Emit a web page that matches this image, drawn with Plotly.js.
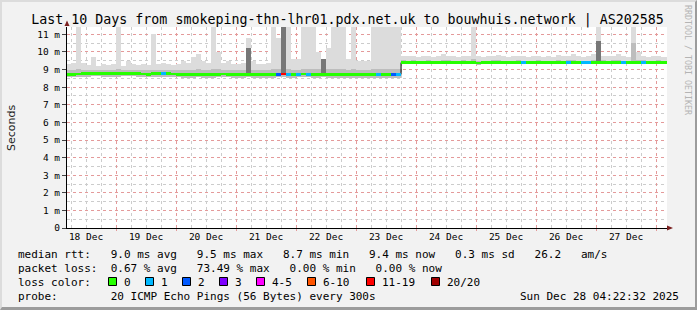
<!DOCTYPE html>
<html><head><meta charset="utf-8">
<script src="https://cdn.plot.ly/plotly-3.0.1.min.js"></script>
<style>
html,body{margin:0;padding:0;background:#f2f2f2;}
#wrap{width:697px;height:310px;box-sizing:border-box;border-style:solid;border-width:2px 2px 3px 2px;border-color:#dcdcdc #9c9c9c #9c9c9c #dcdcdc;background:#f2f2f2;}
#chart{width:693px;height:305px;}
</style></head><body><div id="wrap"><div id="chart"></div></div>
<script>
// ---------- data ----------
const rangeStart = '2025-12-18 04:22:32';
const rangeEnd   = '2025-12-28 04:22:32';
// 2-hour bins starting 2025-12-18 04:00
const medianRtt = [
 8.72,8.73,8.75,8.78,8.78,8.80,8.79,8.78,8.77,8.76,
 8.78,8.79,8.80,8.79,8.77,8.75,8.74,8.76,8.77,8.78,
 8.76,8.75,8.74,8.73,8.72,8.73,8.74,8.73,8.72,8.73,
 8.74,8.75,8.74,8.72,8.71,8.72,8.74,8.73,8.72,8.71,
 8.72,8.73,8.74,8.75,8.73,8.72,8.74,8.75,8.74,8.73,
 8.72,8.74,8.73,8.72,8.71,8.72,8.73,8.72,8.71,8.72,
 8.73,8.72,8.71,8.70,8.70,8.71,8.72,
 9.40,9.41,9.40,9.41,9.40,9.39,9.40,9.41,9.40,9.40,
 9.39,9.40,9.41,9.40,9.41,9.38,9.40,9.41,9.40,9.39,
 9.40,9.41,9.40,9.40,9.39,9.40,9.41,9.40,9.40,9.41,
 9.40,9.39,9.40,9.40,9.41,9.40,9.39,9.40,9.41,9.42,
 9.40,9.39,9.40,9.41,9.40,9.40,9.41,9.40,9.39,9.40,
 9.40,9.41,9.40,9.40
];
const smokeMax = [
 9.30,9.40,11.45,9.40,9.25,9.70,9.20,9.30,9.25,9.30,
 11.45,9.20,9.50,9.30,9.25,9.30,9.25,11.00,9.30,9.40,
 9.30,9.25,9.30,9.50,9.35,9.70,9.90,9.50,9.35,11.45,
 10.00,9.40,9.50,9.30,9.30,9.40,10.80,9.50,9.30,9.30,
 9.40,11.45,10.80,11.45,11.45,9.60,9.60,11.45,11.45,11.45,
 10.00,9.60,10.20,11.45,11.45,11.45,9.60,11.45,9.50,9.50,
 9.50,11.45,11.45,11.45,11.45,11.45,11.45,
 9.80,9.75,9.80,9.70,9.75,9.80,9.70,9.75,9.90,9.80,
 9.75,9.70,9.80,9.75,11.45,9.75,9.70,9.75,9.80,9.85,
 9.75,9.70,9.75,9.80,9.75,9.70,9.75,9.80,9.70,9.75,
 9.70,9.85,9.75,9.80,9.90,9.75,9.70,9.75,9.90,11.45,
 9.80,9.75,9.80,9.90,9.75,9.70,11.45,10.00,9.80,9.70,
 9.75,9.80,9.70,9.70
];
const smokeMid = [
 8.95,8.98,9.02,8.98,8.95,9.00,8.95,8.96,8.95,8.97,
 9.02,8.95,8.98,8.96,8.95,8.97,8.95,9.00,8.96,8.98,
 8.96,8.95,8.96,8.98,8.97,9.00,9.02,8.98,8.97,9.05,
 9.02,8.98,8.98,8.96,8.95,8.98,9.60,8.98,8.96,8.95,
 8.98,9.05,9.05,9.10,9.05,9.00,9.00,9.05,9.05,9.05,
 9.02,9.00,9.02,9.05,9.05,9.05,9.00,9.05,8.98,8.98,
 8.98,9.05,9.05,9.05,9.05,9.05,9.05,
 9.52,9.50,9.52,9.48,9.50,9.52,9.48,9.50,9.55,9.52,
 9.50,9.48,9.52,9.50,9.60,9.50,9.48,9.50,9.52,9.54,
 9.50,9.48,9.50,9.52,9.50,9.48,9.50,9.52,9.48,9.50,
 9.48,9.54,9.50,9.52,9.55,9.50,9.48,9.50,9.55,9.70,
 9.52,9.50,9.52,9.55,9.50,9.48,10.50,9.55,9.52,9.48,
 9.50,9.52,9.48,9.48
];
const smokeMin = [
 8.58,8.58,8.57,8.60,8.60,8.62,8.61,8.60,8.59,8.58,
 8.60,8.61,8.62,8.61,8.59,8.57,8.56,8.58,8.59,8.60,
 8.58,8.57,8.56,8.55,8.54,8.55,8.56,8.55,8.54,8.55,
 8.56,8.57,8.56,8.54,8.53,8.54,8.56,8.55,8.54,8.53,
 8.54,8.55,8.56,8.57,8.55,8.54,8.56,8.57,8.56,8.55,
 8.54,8.56,8.55,8.54,8.53,8.54,8.55,8.54,8.53,8.54,
 8.55,8.54,8.53,8.52,8.52,8.53,8.54,
 9.30,9.31,9.30,9.31,9.30,9.29,9.30,9.31,9.30,9.30,
 9.29,9.30,9.31,9.30,9.31,9.28,9.30,9.31,9.30,9.29,
 9.30,9.31,9.30,9.30,9.29,9.30,9.31,9.30,9.30,9.31,
 9.30,9.29,9.30,9.30,9.31,9.30,9.29,9.30,9.31,9.32,
 9.30,9.29,9.30,9.31,9.30,9.30,9.31,9.30,9.29,9.30,
 9.30,9.31,9.30,9.30
];
// dense (dark) smoke where many pings were slow; null = none
const smokeDark = [
 null,null,null,null,null,null,null,null,null,null,
 null,null,null,null,null,null,null,null,null,null,
 null,null,null,null,null,null,null,null,null,null,
 null,null,null,null,null,null,10.20,null,null,null,
 null,null,null,11.45,null,null,null,null,null,null,
 null,9.60,null,null,null,null,null,null,null,null,
 null,null,null,null,null,null,null,
 null,null,null,null,null,null,null,null,null,null,
 null,null,null,null,null,null,null,null,null,null,
 null,null,null,null,null,null,null,null,null,null,
 null,null,null,null,null,null,null,null,null,10.60,
 null,null,null,null,null,null,null,null,null,null,
 null,null,null,null
];
// lost pings (out of 20) per bin
const lossCount = [
 0,0,0,0,0,0,0,0,0,0,
 0,0,0,0,0,0,0,0,0,1,
 0,0,0,0,0,0,0,0,0,0,
 0,0,0,0,0,0,0,0,0,0,
 0,0,2,15,1,0,1,0,1,0,
 0,0,0,0,0,0,0,0,0,0,
 0,0,1,0,0,2,1,
 0,0,0,0,0,0,0,0,0,0,
 0,0,0,0,0,0,0,0,0,0,
 0,0,0,0,1,0,0,0,0,0,
 0,0,0,1,0,0,1,1,0,0,
 0,0,0,0,1,0,0,0,1,0,
 0,0,0,0
];
const dayNumbers = [18,19,20,21,22,23,24,25,26,27];
const dayLabels = ['18 Dec','19 Dec','20 Dec','21 Dec','22 Dec','23 Dec','24 Dec','25 Dec','26 Dec','27 Dec'];
const yTickVals = [0,1,2,3,4,5,6,7,8,9,10,11];
const yTickText = ['0','1 m','2 m','3 m','4 m','5 m','6 m','7 m','8 m','9 m','10 m','11 m'];
const lossLabels = ['0','1','2','3','4-5','6-10','11-19','20/20'];
const lossColors = ['#26ff00','#00b8ff','#0059ff','#7e00ff','#ff00ff','#ff5500','#ff0000','#a00000'];

// ---------- helpers ----------
const H = 3600*1000;
const binMs = 2*H;
const t0 = Date.UTC(2025,11,18,4,0,0);
const xCenters = medianRtt.map((_,i)=>t0+(i+0.5)*binMs);
const xStarts = medianRtt.map((_,i)=>t0+i*binMs);
function lossColor(n){
  if(n===0) return lossColors[0];
  if(n===1) return lossColors[1];
  if(n===2) return lossColors[2];
  if(n===3) return lossColors[3];
  if(n<=5) return lossColors[4];
  if(n<=10) return lossColors[5];
  if(n<=19) return lossColors[6];
  return lossColors[7];
}
// absolute pixel -> paper
const PL=67, PR=667, PT=27, PB=228;
const px = x => (x-PL)/(PR-PL);
const py = y => (PB-y)/(PB-PT);
const nb = s => s.replace(/ /g,'\u00a0');

// ticks
const gridTicks=[], gridText=[];
for(let d=18; d<=28; d++){
  for(const h of [0,6,12,18]){
    const t=Date.UTC(2025,11,d,h);
    if(t<Date.UTC(2025,11,18,4,22,32)||t>Date.UTC(2025,11,28,4,22,32)) continue;
    gridTicks.push(t);
    const k=dayNumbers.indexOf(d);
    gridText.push(h===12 && k>=0 ? dayLabels[k] : '');
  }
}
const midnights = dayNumbers.map(d=>Date.UTC(2025,11,d+1,0));
const yMinor = yTickVals.map(v=>v+0.5);

const mono = 'DejaVu Sans Mono';
const traces = [
  {type:'bar', x:xCenters, base:smokeMin, y:smokeMax.map((v,i)=>v-smokeMin[i]), width:binMs,
   marker:{color:'#dcdcdc', line:{width:0}}, hoverinfo:'skip', xaxis:'x', yaxis:'y'},
  {type:'bar', x:xCenters, base:smokeMin, y:smokeMid.map((v,i)=>v-smokeMin[i]), width:binMs,
   marker:{color:'#bdbdbd', line:{width:0}}, hoverinfo:'skip', xaxis:'x', yaxis:'y'},
  {type:'bar', x:xCenters, base:medianRtt, y:smokeDark.map((v,i)=>v===null?null:v-medianRtt[i]), width:binMs,
   marker:{color:'#777777', line:{width:0}}, hoverinfo:'skip', xaxis:'x', yaxis:'y'},
  {type:'scatter', mode:'lines', x:xStarts.concat([t0+medianRtt.length*binMs]), y:medianRtt.concat([medianRtt[medianRtt.length-1]]),
   line:{shape:'hv', color:'#000', width:1}, hoverinfo:'skip', xaxis:'x', yaxis:'y'},
  {type:'bar', x:xCenters, base:medianRtt.map(v=>v-0.08), y:medianRtt.map(()=>0.16), width:binMs,
   marker:{color:lossCount.map(lossColor), line:{width:0}}, hoverinfo:'skip', xaxis:'x2', yaxis:'y2'}
];

const annotations = [
  {text:'Seconds', textangle:-90, x:px(11), y:py(128), xref:'paper', yref:'paper', xanchor:'center', yanchor:'middle', showarrow:false,
   font:{family:'DejaVu Sans', size:11, color:'#222'}},
  {text:nb('RRDTOOL / TOBI OETIKER'), textangle:90, x:px(688), y:py(60), xref:'paper', yref:'paper', xanchor:'center', yanchor:'middle', showarrow:false,
   font:{family:mono, size:8.3, color:'#b4b4b4'}},
  {text:nb('median rtt:   9.0 ms avg   9.5 ms max   8.7 ms min   9.4 ms now   0.3 ms sd   26.2   am/s'),
   x:px(16), y:py(254.5), xref:'paper', yref:'paper', xanchor:'left', yanchor:'middle', showarrow:false, font:{family:mono,size:11,color:'#000'}},
  {text:nb('packet loss:  0.67 % avg   73.49 % max   0.00 % min   0.00 % now'),
   x:px(16), y:py(268.5), xref:'paper', yref:'paper', xanchor:'left', yanchor:'middle', showarrow:false, font:{family:mono,size:11,color:'#000'}},
  {text:nb('loss color:'),
   x:px(16), y:py(282.5), xref:'paper', yref:'paper', xanchor:'left', yanchor:'middle', showarrow:false, font:{family:mono,size:11,color:'#000'}},
  {text:nb('probe:        20 ICMP Echo Pings (56 Bytes) every 300s'),
   x:px(16), y:py(296.5), xref:'paper', yref:'paper', xanchor:'left', yanchor:'middle', showarrow:false, font:{family:mono,size:11,color:'#000'}},
  {text:nb('Sun Dec 28 04:22:32 2025'),
   x:px(681), y:py(296.5), xref:'paper', yref:'paper', xanchor:'right', yanchor:'middle', showarrow:false, font:{family:mono,size:11,color:'#000'}}
];
const boxX = [108,145,182,219,256,307,366,431];
const shapes = [];
lossLabels.forEach((lab,k)=>{
  shapes.push({type:'rect', xref:'paper', yref:'paper', x0:px(boxX[k]+0.5), x1:px(boxX[k]+8.5), y0:py(285.5), y1:py(277.5),
    fillcolor:lossColors[k], line:{color:'#000', width:1}});
  annotations.push({text:lab, x:px(boxX[k]+14), y:py(282.5), xref:'paper', yref:'paper', xanchor:'left', yanchor:'middle',
    showarrow:false, font:{family:mono,size:11,color:'#000'}});
});
// axis arrows
shapes.push({type:'path', xref:'paper', yref:'paper', path:`M ${px(64.5)},${py(26)} L ${px(67)},${py(20.5)} L ${px(69.5)},${py(26)} Z`,
  fillcolor:'#7a1f1f', line:{width:0}});
shapes.push({type:'path', xref:'paper', yref:'paper', path:`M ${px(667)},${py(225.5)} L ${px(673)},${py(228)} L ${px(667)},${py(230.5)} Z`,
  fillcolor:'#7a1f1f', line:{width:0}});

const layout = {
  width:693, height:305,
  margin:{l:PL-2, r:693-(PR-2), t:PT-2, b:305-(PB-2), pad:0},
  paper_bgcolor:'#f2f2f2', plot_bgcolor:'#ffffff',
  showlegend:false, barmode:'overlay', bargap:0,
  title:{text:'Last 10 Days from smokeping-thn-lhr01.pdx.net.uk to bouwhuis.network | AS202585',
    font:{family:mono, size:13.3, color:'#000'}, x:(347.5-2)/693, xref:'container', xanchor:'center',
    y:1-(19.5-2)/305, yref:'container', yanchor:'middle'},
  xaxis:{type:'date', range:[rangeStart, rangeEnd], tickmode:'array', tickvals:gridTicks, ticktext:gridText,
    showgrid:true, gridcolor:'#cccccc', griddash:'dot', gridwidth:1, ticks:'', showline:true, linecolor:'#000', linewidth:1,
    zeroline:false, tickfont:{family:mono, size:9.5, color:'#000'}, fixedrange:true},
  xaxis2:{type:'date', overlaying:'x', anchor:'y2', range:[rangeStart, rangeEnd], tickmode:'array', tickvals:midnights,
    showticklabels:false, showgrid:true, gridcolor:'#e49a9a', griddash:'dot', gridwidth:1, ticks:'outside', ticklen:2,
    tickcolor:'#e49a9a', showline:false, zeroline:false, fixedrange:true},
  yaxis:{range:[0,11.42], tickmode:'array', tickvals:yTickVals, ticktext:yTickText, showgrid:true, gridcolor:'#e49a9a',
    griddash:'dot', gridwidth:1, ticks:'outside', ticklen:4, tickcolor:'#444', showline:true, linecolor:'#000', linewidth:1,
    zeroline:false, tickfont:{family:mono, size:9.5, color:'#000'}, fixedrange:true,
    minor:{tickmode:'array', tickvals:yMinor, showgrid:true, gridcolor:'#cccccc', griddash:'dot', gridwidth:1, ticks:''}},
  yaxis2:{overlaying:'y', range:[0,11.42], visible:false, fixedrange:true},
  annotations, shapes
};
Plotly.newPlot('chart', traces, layout, {staticPlot:true, displayModeBar:false});
</script></body></html>
